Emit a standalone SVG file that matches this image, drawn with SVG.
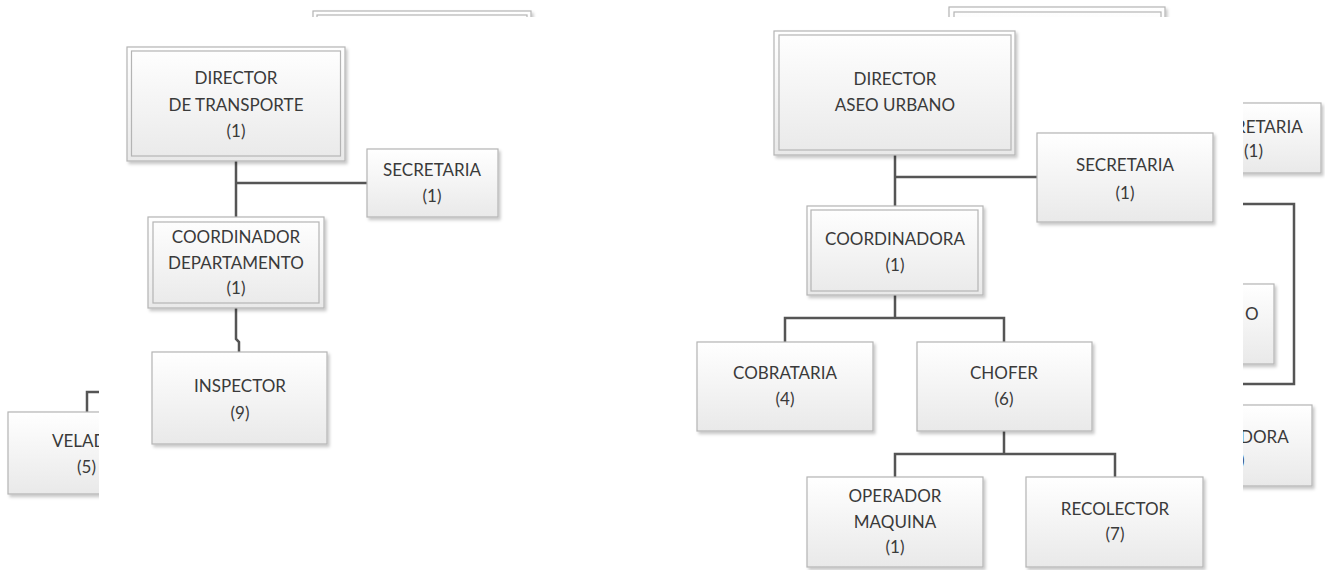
<svg xmlns="http://www.w3.org/2000/svg" width="1325" height="570" viewBox="0 0 1325 570">
  <style>
    .box { fill: url(#g); stroke: #b4b4b4; stroke-width: 1.2; filter: url(#sh); }
    .inner { fill: none; stroke: #b4b4b4; stroke-width: 1.2; }
    .t { font-family: Lato, "Open Sans", sans-serif; font-size: 17px; fill: #3a3a3a; text-anchor: middle; }
    .ts { font-family: Lato, "Open Sans", sans-serif; font-size: 17px; fill: #3a3a3a; }
    .c { fill: none; stroke: #555555; stroke-width: 2.5; }
  </style>
  <defs>
    <linearGradient id="g" x1="0" y1="0" x2="0" y2="1">
      <stop offset="0" stop-color="#ffffff"/>
      <stop offset="1" stop-color="#e9e9e9"/>
    </linearGradient>
    <filter id="sh" x="-10%" y="-10%" width="125%" height="130%">
      <feDropShadow dx="2" dy="2.5" stdDeviation="1.5" flood-color="#000000" flood-opacity="0.22"/>
    </filter>
    <clipPath id="clipL"><rect x="0" y="0" width="99" height="570"/></clipPath>
    <clipPath id="clipR"><rect x="1243" y="0" width="82" height="570"/></clipPath>
    <clipPath id="clipT"><rect x="0" y="0" width="1325" height="17"/></clipPath>
  </defs>
  <rect width="1325" height="570" fill="#ffffff"/>

  <g id="connectors">
    <path class="c" d="M236,161 V217 M236,183 H367"/>
    <path class="c" d="M236,308 V339 L239,342 V352"/>
    <path class="c" d="M895,155 V206 M895,177 H1037"/>
    <path class="c" d="M895,295 V318 M785,342 V318 H1004 V342"/>
    <path class="c" d="M1004,431 V454 M895,477 V454 H1115 V477"/>
    <path class="c" d="M87,412 V392 H99" clip-path="url(#clipL)"/>
    <path class="c" d="M1243,204 H1294 V384 H1243" clip-path="url(#clipR)"/>
  </g>

  <!-- left chart -->
  <g id="top-left-partial" clip-path="url(#clipT)">
    <rect class="box" x="313" y="11" width="218" height="100"/>
    <rect class="inner" x="317" y="15" width="210" height="92"/>
  </g>
  <g id="director-transporte">
    <rect class="box" x="127" y="47" width="218" height="114"/>
    <rect class="inner" x="131.5" y="51" width="209" height="105"/>
    <text class="t" x="236" y="84">DIRECTOR</text>
    <text class="t" x="236" y="111">DE TRANSPORTE</text>
    <text class="t" x="236" y="137">(1)</text>
  </g>
  <g id="secretaria-left">
    <rect class="box" x="367" y="149" width="131" height="68"/>
    <text class="t" x="432" y="176">SECRETARIA</text>
    <text class="t" x="432" y="202">(1)</text>
  </g>
  <g id="coordinador-departamento">
    <rect class="box" x="148" y="217" width="176" height="91"/>
    <rect class="inner" x="153" y="222" width="166" height="81"/>
    <text class="t" x="236" y="243">COORDINADOR</text>
    <text class="t" x="236" y="269">DEPARTAMENTO</text>
    <text class="t" x="236" y="294">(1)</text>
  </g>
  <g id="inspector">
    <rect class="box" x="152" y="352" width="175" height="92"/>
    <text class="t" x="240" y="392">INSPECTOR</text>
    <text class="t" x="240" y="419">(9)</text>
  </g>
  <g id="velador" clip-path="url(#clipL)">
    <rect class="box" x="8" y="412" width="157" height="82"/>
    <text class="ts" x="52" y="447">VELAD</text>
    <text class="ts" x="77" y="473">(5)</text>
  </g>

  <!-- right chart -->
  <g id="top-right-partial" clip-path="url(#clipT)">
    <rect class="box" x="949" y="7" width="216" height="100"/>
    <rect class="inner" x="954" y="12" width="207" height="90"/>
  </g>
  <g id="director-aseo">
    <rect class="box" x="774" y="31" width="241" height="124"/>
    <rect class="inner" x="779" y="35" width="232" height="115"/>
    <text class="t" x="895" y="85">DIRECTOR</text>
    <text class="t" x="895" y="111">ASEO URBANO</text>
  </g>
  <g id="secretaria-right">
    <rect class="box" x="1037" y="133" width="176" height="89"/>
    <text class="t" x="1125" y="171">SECRETARIA</text>
    <text class="t" x="1125" y="199">(1)</text>
  </g>
  <g id="coordinadora">
    <rect class="box" x="807" y="206" width="176" height="89"/>
    <rect class="inner" x="811" y="210" width="167" height="81"/>
    <text class="t" x="895" y="245">COORDINADORA</text>
    <text class="t" x="895" y="271">(1)</text>
  </g>
  <g id="cobrataria">
    <rect class="box" x="697" y="342" width="176" height="89"/>
    <text class="t" x="785" y="379">COBRATARIA</text>
    <text class="t" x="785" y="405">(4)</text>
  </g>
  <g id="chofer">
    <rect class="box" x="917" y="342" width="175" height="89"/>
    <text class="t" x="1004" y="379">CHOFER</text>
    <text class="t" x="1004" y="405">(6)</text>
  </g>
  <g id="operador-maquina">
    <rect class="box" x="807" y="477" width="176" height="90"/>
    <text class="t" x="895" y="502">OPERADOR</text>
    <text class="t" x="895" y="528">MAQUINA</text>
    <text class="t" x="895" y="553">(1)</text>
  </g>
  <g id="recolector">
    <rect class="box" x="1026" y="477" width="177" height="90"/>
    <text class="t" x="1115" y="515">RECOLECTOR</text>
    <text class="t" x="1115" y="540">(7)</text>
  </g>

  <!-- partial nodes on the right edge -->
  <g id="partial-secretaria" clip-path="url(#clipR)">
    <rect class="box" x="1185" y="103" width="136" height="70"/>
    <text class="ts" x="1235" y="133">RETARIA</text>
    <text class="ts" x="1244" y="157">(1)</text>
  </g>
  <g id="partial-o" clip-path="url(#clipR)">
    <rect class="box" x="1180" y="284" width="94" height="80"/>
    <text class="ts" x="1245" y="320">O</text>
  </g>
  <g id="partial-dora" clip-path="url(#clipR)">
    <rect class="box" x="1180" y="405" width="132" height="81"/>
    <text class="ts" x="1240" y="443">DORA</text>
    <text class="ts" x="1240" y="466">)</text>
  </g>
</svg>
